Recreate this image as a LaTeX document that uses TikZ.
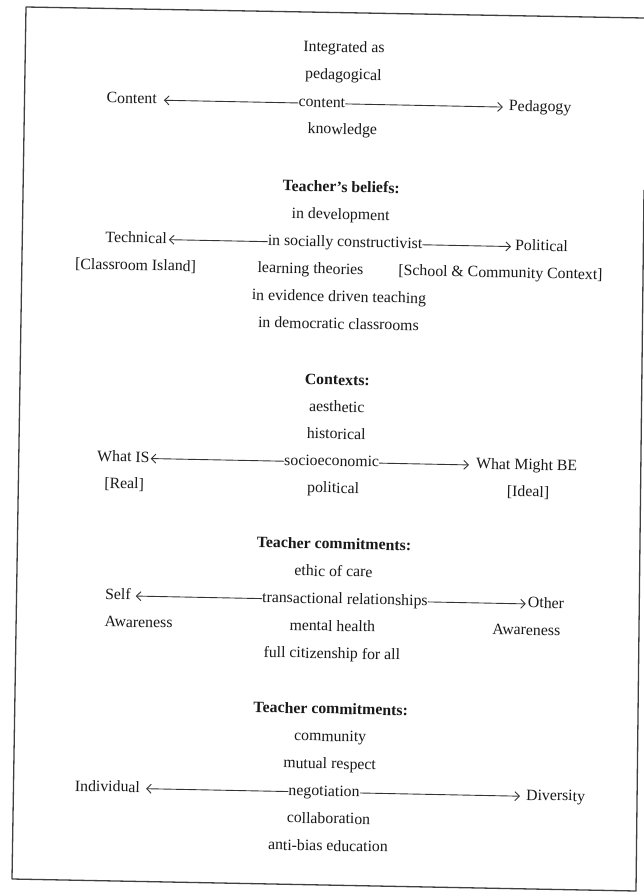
\documentclass[tikz,border=0pt]{standalone}
\usepackage{fontspec}
\setmainfont{Liberation Serif}
\usetikzlibrary{arrows.meta}
\begin{document}
\begin{tikzpicture}[x=1pt,y=-1pt,
  txt/.style={inner xsep=0pt, inner ysep=0pt, text height=11pt, text depth=3.5pt,
              font=\fontsize{15.8}{19}\selectfont, text=black!90},
  hd/.style={txt, font=\fontsize{15.8}{19}\selectfont\bfseries},
  arr/.style={draw=black!80, line width=0.9pt, -{Straight Barb[length=4.5pt,width=9pt]}},
  frame/.style={draw=black!75, line width=1.3pt, line join=round}
]
\useasboundingbox (0,0) rectangle (644,892);
\fill[white] (0,0) rectangle (644,892);
% frame of the scanned page
\draw[frame] (644,18) -- (26,7) -- (12,879) -- (636,891) -- (644,190);

\begin{scope}[rotate around={-1.15:(322,446)}, transform shape]
% ---------- section 1
\node[txt] (s1a) at (336,48) {Integrated as};
\node[txt] (s1b) at (336,75.4) {pedagogical};
\node[txt] (s1m) at (315,103.5) {content};
\node[txt,anchor=east] (s1l) at (150,103.5) {Content};
\node[txt,anchor=west] (s1r) at (502,103.5) {Pedagogy};
\node[txt] (s1c) at (336,130.2) {knowledge};
\draw[arr, shorten >=7pt] (s1m.west) -- (s1l.east);
\draw[arr, shorten >=6pt] (s1m.east) -- (s1r.west);

% ---------- section 2
\node[hd]  (s2h) at (336,188) {Teacher's beliefs:};
\node[txt] (s2a) at (336,215.4) {in development};
\node[txt] (s2m) at (341,242.8) {in socially constructivist};
\node[txt] (s2l) at (132,242.8) {Technical};
\node[txt,anchor=west] (s2r) at (511,242.8) {Political};
\node[txt] (s2l2) at (132,270.2) {[Classroom Island]};
\node[txt] (s2b) at (307,270.2) {learning theories};
\node[txt] (s2r2) at (497,270.2) {[School \& Community Context]};
\node[txt] (s2c) at (336,297.6) {in evidence driven teaching};
\node[txt] (s2d) at (336,325) {in democratic classrooms};
\draw[arr, shorten >=2pt] (s2m.west) -- (s2l.east);
\draw[arr, shorten >=4pt] (s2m.east) -- (s2r.west);

% ---------- section 3
\node[hd]  (s3h) at (336,381) {Contexts:};
\node[txt] (s3a) at (336,408) {aesthetic};
\node[txt] (s3b) at (336,435) {historical};
\node[txt] (s3m) at (332,462) {socioeconomic};
\node[txt,anchor=east] (s3l) at (150,462) {What IS};
\node[txt] (s3r) at (527,462) {What Might BE};
\node[txt] (s3l2) at (125,489) {[Real]};
\node[txt] (s3c) at (334,489) {political};
\node[txt] (s3r2) at (529,489) {[Ideal]};
\draw[arr, shorten >=1pt] (s3m.west) -- (s3l.east);
\draw[arr, shorten >=7pt] (s3m.east) -- (s3r.west);

% ---------- section 4
\node[hd]  (s4h) at (336,545) {Teacher commitments:};
\node[txt] (s4a) at (336,572.4) {ethic of care};
\node[txt] (s4m) at (348,599.8) {transactional relationships};
\node[txt,anchor=west] (s4l) at (108,599.8) {Self};
\node[txt,anchor=west] (s4r) at (531,599.8) {Other};
\node[txt,anchor=west] (s4l2) at (108,627.2) {Awareness};
\node[txt] (s4b) at (336,627.2) {mental health};
\node[txt] (s4r2) at (530,627.2) {Awareness};
\node[txt] (s4c) at (336,654.6) {full citizenship for all};
\draw[arr, shorten >=5pt] (s4m.west) -- (s4l.east);
\draw[arr, shorten >=2pt] (s4m.east) -- (s4r.west);

% ---------- section 5
\node[hd]  (s5h) at (336,710) {Teacher commitments:};
\node[txt] (s5a) at (336,737.4) {community};
\node[txt] (s5b) at (336,764.8) {mutual respect};
\node[txt] (s5m) at (331,792.2) {negotiation};
\node[txt,anchor=east] (s5l) at (147,792.2) {Individual};
\node[txt,anchor=west] (s5r) at (533,792.2) {Diversity};
\node[txt] (s5c) at (336,819.6) {collaboration};
\node[txt] (s5d) at (336,847) {anti-bias education};
\draw[arr, shorten >=6pt] (s5m.west) -- (s5l.east);
\draw[arr, shorten >=6pt] (s5m.east) -- (s5r.west);
\end{scope}
\end{tikzpicture}
\end{document}
